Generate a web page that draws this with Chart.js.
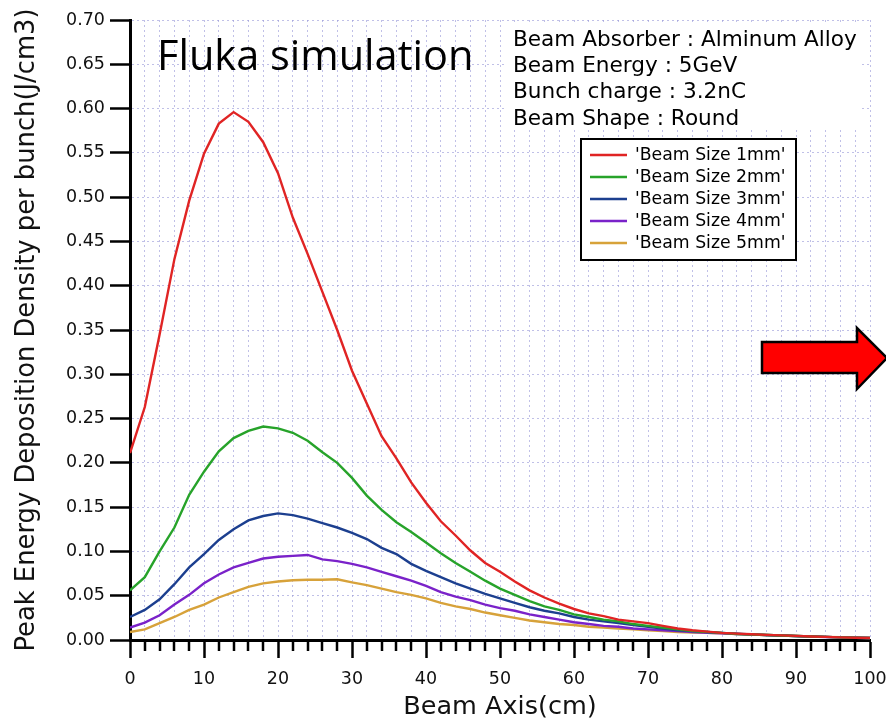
<!DOCTYPE html>
<html>
<head>
<meta charset="utf-8">
<script src="https://cdn.jsdelivr.net/npm/chart.js@4.4.1/dist/chart.umd.min.js"></script>
<style>
html,body{margin:0;padding:0;background:#fff;}
#wrap{width:886px;height:724px;}
</style>
</head>
<body>
<div id="wrap"><canvas id="c" width="886" height="724"></canvas></div>
<script>
// Beam axis positions (cm)
const beamAxis = [0,2,4,6,8,10,12,14,16,18,20,22,24,26,28,30,32,34,36,38,40,42,44,46,48,50,52,54,56,58,60,62,64,66,68,70,72,74,76,78,80,82,84,86,88,90,92,94,96,98,100];

const seriesLabels = ["'Beam Size 1mm'","'Beam Size 2mm'","'Beam Size 3mm'","'Beam Size 4mm'","'Beam Size 5mm'"];
const seriesColors = ["#e02424","#27a32a","#1c3f8f","#7a22c9","#d7a23a"];

const size1mm = [0.211,0.263,0.345,0.430,0.496,0.549,0.583,0.596,0.585,0.562,0.527,0.477,0.436,0.393,0.350,0.304,0.267,0.230,0.205,0.178,0.155,0.134,0.118,0.101,0.087,0.077,0.066,0.056,0.048,0.041,0.035,0.030,0.027,0.023,0.021,0.019,0.016,0.013,0.011,0.0095,0.008,0.0072,0.0065,0.0058,0.0052,0.0046,0.0040,0.0035,0.0030,0.0026,0.0022];
const size2mm = [0.056,0.071,0.100,0.127,0.164,0.190,0.213,0.228,0.236,0.241,0.239,0.234,0.225,0.212,0.200,0.183,0.163,0.147,0.133,0.122,0.110,0.098,0.087,0.077,0.067,0.058,0.051,0.044,0.038,0.034,0.029,0.026,0.023,0.021,0.018,0.016,0.014,0.012,0.010,0.009,0.008,0.0068,0.0062,0.0056,0.0050,0.0045,0.0040,0.0035,0.0030,0.0026,0.0022];
const size3mm = [0.026,0.034,0.046,0.063,0.082,0.097,0.113,0.125,0.135,0.140,0.143,0.141,0.137,0.132,0.127,0.121,0.114,0.104,0.097,0.086,0.078,0.071,0.064,0.058,0.052,0.047,0.042,0.037,0.033,0.030,0.026,0.023,0.021,0.019,0.017,0.015,0.013,0.011,0.010,0.009,0.008,0.0072,0.0064,0.0057,0.0051,0.0045,0.0040,0.0035,0.0030,0.0026,0.0022];
const size4mm = [0.014,0.0196,0.028,0.040,0.051,0.064,0.074,0.082,0.087,0.092,0.094,0.095,0.096,0.091,0.089,0.086,0.082,0.077,0.072,0.067,0.061,0.054,0.049,0.045,0.040,0.036,0.033,0.029,0.026,0.023,0.020,0.018,0.016,0.015,0.013,0.012,0.011,0.010,0.009,0.008,0.0075,0.0068,0.0061,0.0055,0.0050,0.0044,0.0039,0.0034,0.0030,0.0026,0.0022];
const size5mm = [0.009,0.012,0.019,0.026,0.034,0.040,0.048,0.054,0.060,0.064,0.066,0.0675,0.068,0.068,0.0685,0.065,0.062,0.058,0.054,0.051,0.047,0.042,0.038,0.035,0.031,0.028,0.025,0.022,0.020,0.018,0.017,0.015,0.014,0.013,0.012,0.011,0.010,0.009,0.0085,0.008,0.0075,0.0068,0.0062,0.0056,0.0050,0.0045,0.0040,0.0035,0.0031,0.0027,0.0023];
const allSeries = [size1mm,size2mm,size3mm,size4mm,size5mm];

const annotationLines = ["Beam Absorber : Alminum Alloy","Beam Energy : 5GeV","Bunch charge : 3.2nC","Beam Shape : Round"];
const headline = "Fluka simulation";
const xTitle = "Beam Axis(cm)";
const yTitle = "Peak Energy Deposition Density per bunch(J/cm3)";

const FONT = "'DejaVu Sans', sans-serif";
const GRID = "rgba(150,150,215,0.6)";

const datasets = allSeries.map((s,k)=>({
  label: seriesLabels[k],
  data: beamAxis.map((x,i)=>({x:x,y:s[i]})),
  borderColor: seriesColors[k],
  backgroundColor: seriesColors[k],
  borderWidth: 2.4,
  pointRadius: 0,
  tension: 0,
  fill: false
}));

const decor = {
  id:'decor',
  beforeDraw(chart){
    const ctx = chart.ctx;
    ctx.save();
    ctx.fillStyle = '#fff';
    ctx.fillRect(0,0,chart.width,chart.height);
    ctx.restore();
  },
  afterDraw(chart){
    const ctx = chart.ctx;
    const xs = chart.scales.x;
    const bottom = chart.chartArea.bottom;
    ctx.save();
    // minor x ticks
    ctx.strokeStyle = '#000';
    ctx.lineWidth = 2.5;
    beamAxis.forEach(v=>{
      if (v % 10 !== 0) {
        const px = Math.round(xs.getPixelForValue(v));
        ctx.beginPath(); ctx.moveTo(px,bottom); ctx.lineTo(px,bottom+11); ctx.stroke();
      }
    });
    // headline
    ctx.fillStyle = '#000';
    ctx.font = "41.5px 'Open Sans', sans-serif";
    ctx.textBaseline = 'alphabetic';
    ctx.textAlign = 'left';
    ctx.fillText(headline, 157, 70);
    // annotation box
    ctx.fillStyle = '#fff';
    ctx.fillRect(504, 22, 358, 108);
    ctx.fillStyle = '#000';
    ctx.font = "21.6px " + FONT;
    annotationLines.forEach((t,i)=>ctx.fillText(t, 513, 46 + i*26.2));
    // legend
    const lx = 581, ly = 139, lw = 215, lh = 121;
    ctx.fillStyle = '#fff';
    ctx.fillRect(lx,ly,lw,lh);
    ctx.strokeStyle = '#000';
    ctx.lineWidth = 2;
    ctx.strokeRect(lx,ly,lw,lh);
    ctx.font = "17.3px " + FONT;
    ctx.textBaseline = 'middle';
    chart.data.datasets.forEach((d,i)=>{
      const yy = 155 + i*22;
      ctx.strokeStyle = d.borderColor;
      ctx.lineWidth = 2.4;
      ctx.beginPath(); ctx.moveTo(590,yy); ctx.lineTo(627,yy); ctx.stroke();
      ctx.fillStyle = '#000';
      ctx.fillText(d.label, 635, yy+1);
    });
    // arrow
    ctx.beginPath();
    ctx.moveTo(762,342); ctx.lineTo(857,342); ctx.lineTo(857,328);
    ctx.lineTo(887,358); ctx.lineTo(857,389); ctx.lineTo(857,373);
    ctx.lineTo(762,373); ctx.closePath();
    ctx.fillStyle = '#ff0000';
    ctx.fill();
    ctx.strokeStyle = '#000';
    ctx.lineWidth = 2.5;
    ctx.stroke();
    ctx.restore();
  }
};

new Chart(document.getElementById('c'), {
  type:'line',
  data:{datasets:datasets},
  plugins:[decor],
  options:{
    responsive:false,
    animation:false,
    layout:{padding:{top:20,right:16,bottom:0,left:0}},
    plugins:{legend:{display:false},tooltip:{enabled:false}},
    scales:{
      x:{
        type:'linear', min:0, max:100,
        afterFit(s){ s.height = 84; s.paddingRight = 0; s.paddingLeft = 0; },
        ticks:{
          stepSize:2, autoSkip:false, maxRotation:0, padding:11,
          color:'#111', font:{family:FONT,size:17.5},
          callback:(v)=> (v % 10 === 0 ? String(v) : '')
        },
        grid:{
          color:GRID, lineWidth:1, drawTicks:true, tickLength:18,
          tickWidth:2.5,
          tickColor:(c)=> (c.tick && c.tick.value % 10 === 0 ? '#000' : 'rgba(0,0,0,0)')
        },
        border:{display:true,color:'#000',width:3,dash:[2,3]},
        title:{display:true,text:xTitle,color:'#111',font:{family:FONT,size:25.5},padding:{top:0,bottom:1}}
      },
      y:{
        type:'linear', min:0, max:0.7,
        afterFit(s){ s.width = 130; },
        ticks:{
          stepSize:0.05, autoSkip:false, padding:5,
          color:'#111', font:{family:FONT,size:17.5},
          callback:(v)=> Number(v).toFixed(2)
        },
        grid:{color:GRID, lineWidth:1, drawTicks:true, tickLength:20, tickWidth:2.5, tickColor:'#000'},
        border:{display:true,color:'#000',width:3,dash:[2,3]},
        title:{display:true,text:yTitle,color:'#111',font:{family:FONT,size:25.8},padding:{top:12,bottom:0}}
      }
    }
  }
});
</script>
</body>
</html>
